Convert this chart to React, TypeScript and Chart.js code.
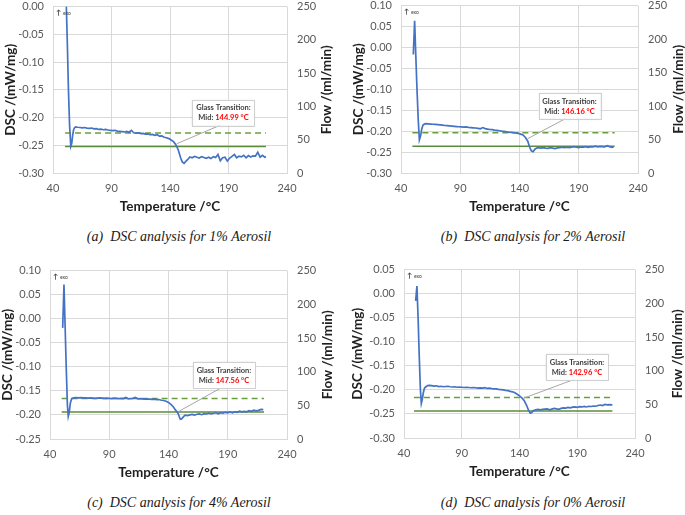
import { useEffect, useRef } from "react";
import { Chart, registerables } from "chart.js";

Chart.register(...registerables);

// ---- Temperature axis ----
const tempMin = 40;
const tempMax = 240;
const tempStep = 50;

// ---- Flow axis (right) ----
const flowMin = 0;
const flowMax = 250;
const flowStep = 50;
const purgeFlow = [60, 60];
const protectiveFlow = [40, 40];

// ---- (a) 1% Aerosil ----
const tempA = [51.4, 52.3, 53.2, 54.2, 55.2, 56.0, 56.8, 57.6, 58.5, 59.5, 61, 63, 65, 67, 69, 71, 73, 75, 77, 79, 81, 83, 85, 87, 89, 91, 93, 95, 97, 99, 101, 103, 105, 107, 109, 111, 113, 115, 117, 119, 121, 123, 125, 127, 129, 131, 133, 135, 137, 139, 141, 143, 145, 147, 149, 150.5, 152, 153.5, 155, 157, 159, 161, 163, 165, 167, 169, 171, 173, 175, 177, 179, 181, 183, 185, 187, 189, 191, 193, 195, 197, 199, 201, 203, 205, 207, 209, 211, 213, 215, 217, 219, 221, 222];
const dscA = [0.0, -0.07, -0.15, -0.215, -0.252, -0.247, -0.232, -0.222, -0.218, -0.217, -0.2175, -0.218, -0.2185, -0.218, -0.219, -0.2195, -0.219, -0.2205, -0.22, -0.2215, -0.221, -0.222, -0.2215, -0.2225, -0.223, -0.2235, -0.223, -0.2245, -0.225, -0.2255, -0.226, -0.225, -0.2265, -0.223, -0.2275, -0.228, -0.2275, -0.229, -0.2285, -0.23, -0.2295, -0.231, -0.2305, -0.232, -0.231, -0.2335, -0.233, -0.2355, -0.2365, -0.238, -0.2405, -0.2435, -0.249, -0.258, -0.272, -0.28, -0.2825, -0.279, -0.276, -0.271, -0.2725, -0.27, -0.2715, -0.273, -0.2705, -0.272, -0.2735, -0.2715, -0.274, -0.2705, -0.272, -0.2665, -0.278, -0.2725, -0.2715, -0.2785, -0.273, -0.27, -0.2665, -0.2725, -0.2695, -0.271, -0.268, -0.2725, -0.2685, -0.271, -0.269, -0.2695, -0.2625, -0.2715, -0.268, -0.2715, -0.2705];
const flowTempA = [50.3, 222];
const tgA = 144.99;

// ---- (b) 2% Aerosil ----
const tempB = [50.4, 51.5, 52.5, 53.5, 54.5, 55.5, 56.5, 57.5, 58.5, 59.7, 61, 63, 65, 67, 69, 71, 73, 75, 77, 79, 81, 83, 85, 87, 89, 91, 93, 95, 97, 99, 101, 103, 105, 107, 109, 111, 113, 115, 117, 119, 121, 123, 125, 127, 129, 131, 133, 135, 137, 139, 141, 143, 145, 147, 148.5, 150, 151.5, 153, 154.5, 156, 158, 160, 162, 164, 166, 168, 170, 172, 174, 176, 178, 180, 182, 184, 186, 188, 190, 192, 194, 196, 198, 200, 202, 204, 206, 208, 210, 212, 214, 216, 218, 219.4];
const dscB = [-0.017, 0.064, -0.02, -0.1, -0.17, -0.221, -0.212, -0.195, -0.186, -0.183, -0.182, -0.1825, -0.183, -0.1835, -0.184, -0.1845, -0.185, -0.1855, -0.1865, -0.187, -0.1875, -0.188, -0.1885, -0.189, -0.1895, -0.19, -0.1905, -0.19, -0.191, -0.1915, -0.192, -0.1925, -0.1935, -0.1945, -0.1915, -0.194, -0.195, -0.196, -0.1965, -0.1975, -0.198, -0.199, -0.2, -0.2005, -0.2015, -0.2025, -0.203, -0.2035, -0.2045, -0.2055, -0.207, -0.209, -0.215, -0.224, -0.238, -0.247, -0.249, -0.243, -0.2405, -0.2395, -0.2405, -0.2395, -0.2405, -0.241, -0.2395, -0.2405, -0.2415, -0.24, -0.2395, -0.2385, -0.2395, -0.2385, -0.2395, -0.2385, -0.237, -0.2385, -0.2395, -0.2375, -0.238, -0.237, -0.2385, -0.237, -0.2375, -0.236, -0.2375, -0.2365, -0.237, -0.2375, -0.2345, -0.237, -0.2385, -0.2375];
const flowTempB = [49.6, 220.3];
const tgB = 146.16;

// ---- (c) 4% Aerosil ----
const tempC = [50.7, 51.8, 52.8, 53.8, 54.7, 55.4, 56.2, 57.2, 58.3, 60, 62, 64, 66, 68, 70, 72, 74, 76, 78, 80, 82, 84, 86, 88, 90, 92, 94, 96, 98, 100, 102, 104, 106, 108, 110, 112, 114, 116, 118, 120, 122, 124, 126, 128, 130, 132, 134, 136, 138, 140, 142, 144, 146, 148, 149, 150, 151, 152.5, 154, 156, 158, 160, 162, 164, 166, 168, 170, 172, 174, 176, 178, 180, 182, 184, 186, 188, 190, 192, 194, 196, 198, 200, 202, 204, 206, 208, 210, 212, 214, 216, 218, 220];
const dscC = [-0.019, 0.071, -0.02, -0.11, -0.18, -0.203, -0.195, -0.175, -0.166, -0.1645, -0.164, -0.1645, -0.164, -0.1645, -0.1645, -0.165, -0.1645, -0.165, -0.1655, -0.165, -0.1645, -0.165, -0.1655, -0.165, -0.1655, -0.166, -0.165, -0.1655, -0.166, -0.1655, -0.166, -0.1635, -0.1665, -0.166, -0.1655, -0.1635, -0.1665, -0.166, -0.1665, -0.167, -0.1665, -0.167, -0.1675, -0.167, -0.168, -0.168, -0.1695, -0.17, -0.1715, -0.174, -0.178, -0.183, -0.19, -0.1965, -0.203, -0.209, -0.2085, -0.204, -0.2005, -0.2015, -0.2, -0.199, -0.2005, -0.1985, -0.198, -0.1995, -0.1975, -0.198, -0.1965, -0.198, -0.1965, -0.1955, -0.1975, -0.1955, -0.196, -0.1945, -0.1955, -0.194, -0.1955, -0.1935, -0.1945, -0.192, -0.1935, -0.1925, -0.1935, -0.191, -0.1925, -0.19, -0.1915, -0.1905, -0.1885, -0.189];
const flowTempC = [49.8, 220.6];
const tgC = 147.56;

// ---- (d) 0% Aerosil ----
const tempD = [50.1, 51.2, 52.2, 53.2, 54.2, 55, 55.8, 56.8, 57.8, 59, 60.5, 62, 64, 66, 68, 70, 72, 74, 76, 78, 80, 82, 84, 86, 88, 90, 92, 94, 96, 98, 100, 102, 104, 106, 108, 110, 112, 114, 116, 118, 120, 122, 124, 126, 128, 130, 132, 134, 136, 138, 140, 142, 144, 146, 148, 149.4, 150.5, 152, 154, 156, 158, 160, 162, 164, 166, 168, 170, 172, 174, 176, 178, 180, 182, 184, 186, 188, 190, 192, 194, 196, 198, 200, 202, 204, 206, 208, 210, 212, 214, 216, 218, 220.4];
const dscD = [-0.015, 0.016, -0.05, -0.13, -0.2, -0.228, -0.22, -0.205, -0.196, -0.1935, -0.191, -0.1905, -0.191, -0.192, -0.1915, -0.193, -0.1925, -0.1935, -0.193, -0.1925, -0.1935, -0.194, -0.1935, -0.1945, -0.194, -0.1945, -0.195, -0.1945, -0.195, -0.1955, -0.195, -0.1955, -0.1965, -0.196, -0.1965, -0.1955, -0.197, -0.1965, -0.1975, -0.198, -0.198, -0.199, -0.1995, -0.2, -0.201, -0.2015, -0.203, -0.204, -0.206, -0.209, -0.2125, -0.2165, -0.222, -0.2315, -0.243, -0.2485, -0.247, -0.2435, -0.2415, -0.2405, -0.2415, -0.2405, -0.24, -0.2395, -0.2415, -0.24, -0.2385, -0.2395, -0.2405, -0.2385, -0.2375, -0.238, -0.2365, -0.2375, -0.236, -0.2355, -0.2365, -0.235, -0.2355, -0.2345, -0.2355, -0.234, -0.2345, -0.2335, -0.234, -0.2325, -0.2315, -0.2325, -0.23, -0.231, -0.2305, -0.231];
const flowTempD = [48.6, 220.4];
const tgD = 142.96;

type Panel = {
  temps: number[];
  dsc: number[];
  flowTemps: number[];
  tg: number;
  yMin: number;
  yMax: number;
  caption: string;
  left: number;
  top: number;
  width: number;
  height: number;
  leftW: number;
  rightW: number;
  yTitleX: number;
  flowTitleGap: number;
  boxT: number;
  boxV: number;
  capX: number;
  capY: number;
};

const panels: Panel[] = [
  { temps: tempA, dsc: dscA, flowTemps: flowTempA, tg: tgA, yMin: -0.3, yMax: 0, caption: "(a)  DSC analysis for 1% Aerosil",
    left: 0, top: -10, width: 342, height: 230, leftW: 53, rightW: 55, yTitleX: 11, flowTitleGap: 40, boxT: 185.7, boxV: -0.191, capX: 179, capY: 237 },
  { temps: tempB, dsc: dscB, flowTemps: flowTempB, tg: tgB, yMin: -0.3, yMax: 0.1, caption: "(b)  DSC analysis for 2% Aerosil",
    left: 342, top: -11, width: 343, height: 231, leftW: 59, rightW: 47, yTitleX: 16.7, flowTitleGap: 40.7, boxT: 182.2, boxV: -0.139, capX: 533, capY: 237 },
  { temps: tempC, dsc: dscC, flowTemps: flowTempC, tg: tgC, yMin: -0.25, yMax: 0.1, caption: "(c)  DSC analysis for 4% Aerosil",
    left: 0, top: 254, width: 342, height: 232, leftW: 50, rightW: 55, yTitleX: 7.5, flowTitleGap: 40.5, boxT: 186.8, boxV: -0.118, capX: 179, capY: 503 },
  { temps: tempD, dsc: dscD, flowTemps: flowTempD, tg: tgD, yMin: -0.3, yMax: 0.05, caption: "(d)  DSC analysis for 0% Aerosil",
    left: 342, top: 253, width: 343, height: 232, leftW: 62, rightW: 50, yTitleX: 15.7, flowTitleGap: 42.8, boxT: 189.8, boxV: -0.152, capX: 533, capY: 503 },
];

const FONT = "Lato, 'Open Sans', sans-serif";
const TICK_COLOR = "#595959";
const TITLE_COLOR = "#1f1f1f";
const GRID = "#d9d9d9";
const TITLE_SIZE = 13.5;
const TITLE_HALF = (TITLE_SIZE * 1.2) / 2;

function valueAt(ts: number[], vs: number[], t: number) {
  for (let i = 1; i < ts.length; i++) {
    if (t <= ts[i]) {
      const f = (t - ts[i - 1]) / (ts[i] - ts[i - 1]);
      return vs[i - 1] + f * (vs[i] - vs[i - 1]);
    }
  }
  return vs[vs.length - 1];
}

// Draws the "exo" marker, the rotated Flow title and the glass-transition callout.
function notesPlugin(p: Panel) {
  return {
    id: "dscNotes",
    afterDraw(chart: any) {
      const { ctx, chartArea, scales } = chart;
      ctx.save();

      // exo direction marker
      ctx.fillStyle = "#404040";
      ctx.textBaseline = "middle";
      ctx.textAlign = "left";
      ctx.font = `bold 7px ${FONT}`;
      ctx.fillText("\u2191", chartArea.left + 3, chartArea.top + 6);
      ctx.font = `5px ${FONT}`;
      ctx.fillText("exo", chartArea.left + 10, chartArea.top + 6.5);

      // right axis title, reading bottom to top
      ctx.save();
      ctx.translate(chartArea.right + p.flowTitleGap, (chartArea.top + chartArea.bottom) / 2);
      ctx.rotate(-Math.PI / 2);
      ctx.font = `bold ${TITLE_SIZE}px ${FONT}`;
      ctx.fillStyle = TITLE_COLOR;
      ctx.textAlign = "center";
      ctx.textBaseline = "middle";
      ctx.fillText("Flow /(ml/min)", 0, 0);
      ctx.restore();

      // glass transition callout
      const tipX = scales.x.getPixelForValue(p.tg);
      const tipY = scales.y.getPixelForValue(valueAt(p.temps, p.dsc, p.tg));
      const bx = scales.x.getPixelForValue(p.boxT);
      const by = scales.y.getPixelForValue(p.boxV);
      const bw = 62;
      const bh = 26;
      ctx.strokeStyle = "#a6a6a6";
      ctx.lineWidth = 1;
      ctx.beginPath();
      ctx.moveTo(bx - 4, by + bh / 2);
      ctx.lineTo(tipX + 1, tipY - 1);
      ctx.stroke();

      ctx.save();
      ctx.shadowColor = "rgba(0,0,0,0.12)";
      ctx.shadowBlur = 2;
      ctx.fillStyle = "#ffffff";
      ctx.fillRect(bx - bw / 2, by - bh / 2, bw, bh);
      ctx.restore();
      ctx.strokeStyle = "#d0d0d0";
      ctx.strokeRect(Math.round(bx - bw / 2) + 0.5, Math.round(by - bh / 2) + 0.5, bw, bh);

      ctx.font = `bold 7.5px ${FONT}`;
      ctx.textBaseline = "middle";
      ctx.textAlign = "center";
      ctx.fillStyle = "#404040";
      ctx.fillText("Glass Transition:", bx, by - 4.5);
      const head = "Mid: ";
      const val = `${p.tg.toFixed(2)} \u00b0C`;
      const w1 = ctx.measureText(head).width;
      const w2 = ctx.measureText(val).width;
      const x0 = bx - (w1 + w2) / 2;
      ctx.textAlign = "left";
      ctx.fillText(head, x0, by + 5.5);
      ctx.fillStyle = "#ff0000";
      ctx.fillText(val, x0 + w1, by + 5.5);

      ctx.restore();
    },
  };
}

function DscPanel({ p }: { p: Panel }) {
  const ref = useRef<HTMLCanvasElement>(null);
  useEffect(() => {
    const tickFont = { family: FONT, size: 11 };
    const titleFont = { family: FONT, size: TITLE_SIZE, weight: "bold" as const };
    const chart = new Chart(ref.current!, {
      type: "line",
      data: {
        datasets: [
          {
            label: "DSC",
            data: p.temps.map((t, i) => ({ x: t, y: p.dsc[i] })),
            yAxisID: "y",
            borderColor: "#4472C4",
            borderWidth: 1.7,
            pointRadius: 0,
            tension: 0,
          },
          {
            label: "Purge flow",
            data: p.flowTemps.map((t, i) => ({ x: t, y: purgeFlow[i] })),
            yAxisID: "y2",
            borderColor: "#6A9E3C",
            borderDash: [6, 4],
            borderWidth: 1.5,
            pointRadius: 0,
          },
          {
            label: "Protective flow",
            data: p.flowTemps.map((t, i) => ({ x: t, y: protectiveFlow[i] })),
            yAxisID: "y2",
            borderColor: "#5B8C3A",
            borderWidth: 1.5,
            pointRadius: 0,
          },
        ],
      },
      options: {
        responsive: false,
        animation: false,
        events: [],
        layout: { padding: { top: 15, left: 0, right: 0, bottom: 0 } },
        plugins: { legend: { display: false }, tooltip: { enabled: false } },
        scales: {
          x: {
            type: "linear",
            min: tempMin,
            max: tempMax,
            ticks: { stepSize: tempStep, color: TICK_COLOR, font: tickFont, padding: 9 },
            grid: { color: GRID, drawTicks: false },
            border: { color: GRID },
            title: { display: true, text: "Temperature /\u00b0C", color: TITLE_COLOR, font: titleFont, padding: { top: 0, bottom: 13 - TITLE_HALF } },
            afterFit: (s: any) => { s.height = 47; },
          },
          y: {
            type: "linear",
            position: "left",
            min: p.yMin,
            max: p.yMax,
            ticks: {
              stepSize: 0.05,
              color: TICK_COLOR,
              font: tickFont,
              padding: 9,
              callback: (v: any) => (Math.abs(Number(v)) < 1e-9 ? 0 : Number(v)).toFixed(2),
            },
            grid: { color: GRID, drawTicks: false },
            border: { color: GRID },
            title: { display: true, text: "DSC /(mW/mg)", color: TITLE_COLOR, font: titleFont, padding: { top: p.yTitleX - TITLE_HALF, bottom: 0 } },
            afterFit: (s: any) => { s.width = p.leftW; },
          },
          y2: {
            type: "linear",
            position: "right",
            min: flowMin,
            max: flowMax,
            ticks: { stepSize: flowStep, color: TICK_COLOR, font: tickFont, padding: 10 },
            grid: { display: false, drawTicks: false },
            border: { display: false },
            afterFit: (s: any) => { s.width = p.rightW; },
          },
        },
      },
      plugins: [notesPlugin(p)],
    });
    return () => chart.destroy();
  }, []);
  return (
    <canvas
      ref={ref}
      width={p.width}
      height={p.height}
      style={{ position: "absolute", left: p.left, top: p.top, width: p.width, height: p.height }}
    />
  );
}

export default function App() {
  return (
    <div style={{ position: "absolute", left: 0, top: 0, width: 685, height: 515, background: "#fff", overflow: "hidden" }}>
      {panels.map((p, i) => (
        <DscPanel key={i} p={p} />
      ))}
      {panels.map((p, i) => (
        <div
          key={"c" + i}
          style={{
            position: "absolute",
            left: p.capX - 160,
            top: p.capY - 9,
            width: 320,
            height: 18,
            lineHeight: "18px",
            textAlign: "center",
            whiteSpace: "pre",
            fontFamily: "'Liberation Serif', 'Times New Roman', serif",
            fontStyle: "italic",
            fontSize: 14,
            color: "#1a1a1a",
          }}
        >
          {p.caption}
        </div>
      ))}
    </div>
  );
}
